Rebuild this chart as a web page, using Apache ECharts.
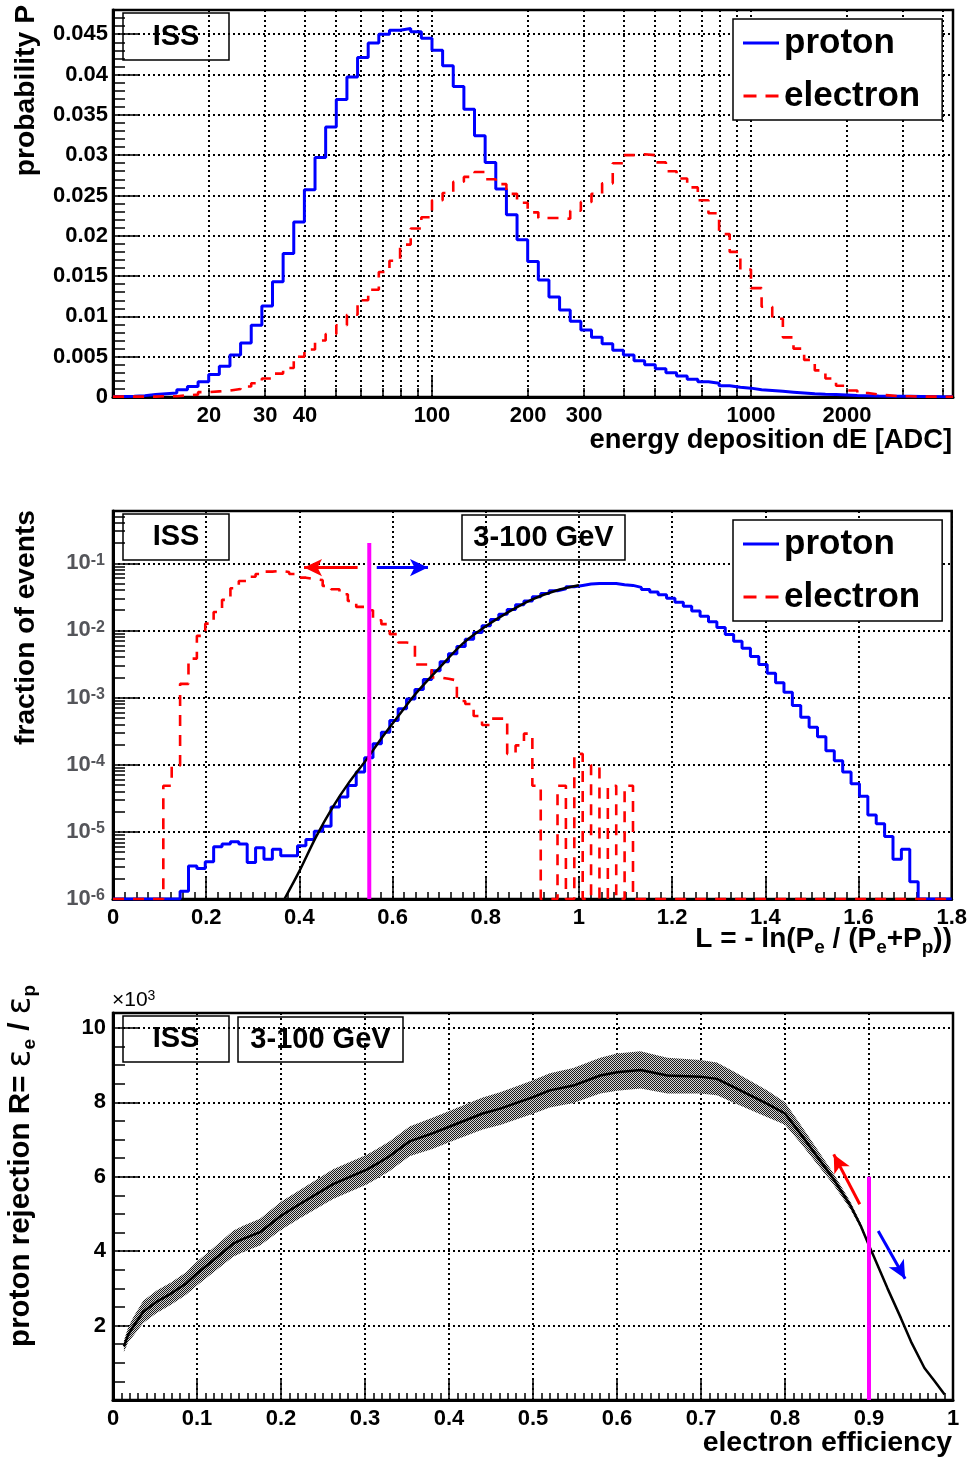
<!DOCTYPE html>
<html>
<head>
<meta charset="utf-8">
<script src="https://cdn.jsdelivr.net/npm/echarts@6/dist/echarts.min.js"></script>
<style>
  html, body { margin: 0; padding: 0; background: #fff; }
  #chart { width: 970px; height: 1458px; }
</style>
</head>
<body>
<div id="chart"></div>
<script>
// ---------------- energy deposition spectrum (30 log bins per decade from 10 ADC)
const dEFirstEdge = 10;
const dEBinsPerDecade = 30;
const dEProton = [
  0.00005, 0.0001, 0.00017, 0.0003, 0.0004, 0.0005, 0.0009, 0.0013, 0.0019, 0.0028,
  0.0038, 0.0052, 0.0067, 0.0089, 0.0113, 0.0143, 0.0178, 0.0217, 0.0257, 0.0297,
  0.0335, 0.0369, 0.0397, 0.0421, 0.0439, 0.0450, 0.0455, 0.0457, 0.0453, 0.0445,
  0.0430, 0.0411, 0.0385, 0.0357, 0.0324, 0.0291, 0.0258, 0.0226, 0.0195, 0.0168,
  0.0145, 0.0124, 0.0108, 0.0094, 0.0083, 0.0074, 0.0066, 0.0058, 0.0052, 0.0045,
  0.0040, 0.0035, 0.0030, 0.0026, 0.0022, 0.0019, 0.0017, 0.0014, 0.0012, 0.0011,
  0.0009, 0.0008, 0.0007, 0.0006, 0.0005, 0.0004, 0.00033, 0.0003, 0.00025, 0.0002,
  0.00017, 0.00012, 0.0001, 0.0001, 0.00008, 0.00006, 0.00005, 0.00004, 0.00003
];
const dEElectron = [
  0.00005, 0.00005, 0.00005, 0.00005, 0.0001, 0.0001, 0.0002, 0.0003, 0.0006, 0.0007,
  0.0008, 0.0010, 0.0013, 0.0017, 0.0023, 0.0029, 0.0036, 0.0050, 0.0059, 0.0070,
  0.0078, 0.0089, 0.0102, 0.0120, 0.0133, 0.0155, 0.0169, 0.0189, 0.0209, 0.0223,
  0.0244, 0.0253, 0.0267, 0.0273, 0.0279, 0.0270, 0.0264, 0.0252, 0.0241, 0.0229,
  0.0222, 0.0222, 0.0221, 0.0231, 0.0242, 0.0252, 0.0265, 0.0290, 0.0300, 0.0301,
  0.0300, 0.0291, 0.0280, 0.0271, 0.0260, 0.0244, 0.0228, 0.0202, 0.0180, 0.0158,
  0.0135, 0.0112, 0.0097, 0.0074, 0.0060, 0.0046, 0.0033, 0.0023, 0.0014, 0.0008,
  0.0005, 0.0003, 0.0002, 0.0001, 0.0001, 0.00005, 0.00005, 0.00003, 0.00003
];
const dEGridTicks = [10, 20, 30, 40, 50, 60, 70, 80, 90, 100, 200, 300, 400, 500, 600, 700, 800, 900, 1000, 2000, 3000, 4000];
const dEDecadeTicks = [100, 1000];
const dELabelTicks = [20, 30, 40, 100, 200, 300, 1000, 2000];

// ---------------- likelihood L (100 bins of 0.018 from 0)
const lBinWidth = 0.018;
const lProton = [
  0, 0, 0, 0, 0, 0, 0, 0, 1.3e-6, 3.1e-6,
  2.85e-6, 3.6e-6, 6.0e-6, 6.6e-6, 7.1e-6, 6.6e-6, 3.5e-6, 5.8e-6, 3.9e-6, 5.5e-6,
  4.4e-6, 4.4e-6, 6.2e-6, 7.7e-6, 1.02e-5, 1.21e-5, 2.35e-5, 3.3e-5, 4.9e-5, 7.8e-5,
  1.27e-4, 2.05e-4, 3.05e-4, 4.55e-4, 6.8e-4, 9.5e-4, 1.32e-3, 1.86e-3, 2.5e-3, 3.4e-3,
  4.5e-3, 5.75e-3, 7.4e-3, 9.3e-3, 1.17e-2, 1.45e-2, 1.74e-2, 2.04e-2, 2.4e-2, 2.75e-2,
  3.16e-2, 3.55e-2, 3.9e-2, 4.17e-2, 4.47e-2, 4.68e-2, 4.9e-2, 5.0e-2, 5.0e-2, 5.0e-2,
  4.8e-2, 4.68e-2, 4.37e-2, 4.07e-2, 3.72e-2, 3.39e-2, 3.02e-2, 2.63e-2, 2.29e-2, 1.95e-2,
  1.62e-2, 1.35e-2, 1.1e-2, 8.7e-3, 6.9e-3, 5.4e-3, 4.1e-3, 3.1e-3, 2.3e-3, 1.66e-3,
  1.2e-3, 7.6e-4, 5.1e-4, 3.6e-4, 2.6e-4, 1.62e-4, 1.15e-4, 7.8e-5, 5.2e-5, 3.4e-5,
  1.78e-5, 1.32e-5, 8.5e-6, 3.9e-6, 5.5e-6, 1.8e-6, 0, 0, 0, 0
];
const lElectron = [
  0, 0, 0, 0, 0, 0, 4.85e-5, 9.7e-5, 1.6e-3, 3.8e-3,
  8.3e-3, 1.26e-2, 1.88e-2, 2.85e-2, 4.25e-2, 5.45e-2, 6.3e-2, 6.9e-2, 7.5e-2, 7.7e-2,
  7.4e-2, 6.9e-2, 6.1e-2, 5.8e-2, 5.6e-2, 4.6e-2, 4.1e-2, 3.45e-2, 2.75e-2, 2.24e-2,
  2.0e-2, 1.42e-2, 1.24e-2, 8.8e-3, 6.6e-3, 6.4e-3, 3.1e-3, 3.1e-3, 2.0e-3, 1.9e-3,
  1.8e-3, 8.9e-4, 8.0e-4, 5.3e-4, 3.9e-4, 4.85e-4, 4.85e-4, 1.45e-4, 1.94e-4, 2.9e-4,
  4.85e-5, 0, 0, 4.85e-5, 0, 1.45e-4, 0, 9.7e-5, 0, 4.85e-5,
  0, 4.85e-5, 0, 0, 0, 0, 0, 0, 0, 0,
  0, 0, 0, 0, 0, 0, 0, 0, 0, 0,
  0, 0, 0, 0, 0, 0, 0, 0, 0, 0,
  0, 0, 0, 0, 0, 0, 0, 0, 0, 0
];
// fit to the proton distribution
const lFitX = [0.368, 0.40, 0.436, 0.471, 0.507, 0.543, 0.579, 0.614, 0.65, 0.70, 0.75, 0.80, 0.85, 0.90, 0.95, 1.00];
const lFitY = [1.0e-6, 2.6e-6, 8.5e-6, 2.3e-5, 5.5e-5, 1.17e-4, 2.63e-4, 5.5e-4, 1.15e-3, 2.75e-3, 6.3e-3, 1.15e-2, 1.9e-2, 2.9e-2, 3.9e-2, 4.7e-2];
const lCut = 0.55;
const lCutTop = 0.2;
const lAxisMin = 1e-6;
const lAxisMax = 0.6;

// ---------------- proton rejection vs electron efficiency (rejection in units of 10^3)
const effValues = [0.013, 0.018, 0.024, 0.036, 0.052, 0.069, 0.087, 0.100, 0.119, 0.143,
  0.155, 0.175, 0.200, 0.222, 0.262, 0.302, 0.313, 0.329, 0.353, 0.381,
  0.401, 0.440, 0.461, 0.500, 0.520, 0.548, 0.580, 0.600, 0.628, 0.660,
  0.699, 0.719, 0.739, 0.779, 0.800, 0.818, 0.838, 0.858, 0.878, 0.890,
  0.900, 0.906, 0.922, 0.938, 0.950, 0.966, 0.978, 0.990];
const rejValues = [1.44, 1.75, 1.97, 2.37, 2.64, 2.86, 3.13, 3.40, 3.75, 4.20,
  4.33, 4.51, 4.95, 5.26, 5.80, 6.19, 6.33, 6.55, 6.95, 7.17,
  7.35, 7.70, 7.83, 8.14, 8.32, 8.45, 8.72, 8.81, 8.87, 8.72,
  8.69, 8.63, 8.41, 7.96, 7.70, 7.17, 6.55, 5.93, 5.22, 4.69,
  4.15, 3.84, 3.00, 2.20, 1.57, 0.86, 0.51, 0.15];
const rejErrors = [0.15, 0.20, 0.25, 0.30, 0.30, 0.30, 0.30, 0.32, 0.33, 0.35,
  0.35, 0.36, 0.38, 0.38, 0.40, 0.40, 0.40, 0.40, 0.40, 0.42,
  0.42, 0.43, 0.44, 0.45, 0.46, 0.47, 0.48, 0.50, 0.50, 0.48,
  0.45, 0.44, 0.42, 0.36, 0.30, 0.25, 0.20, 0.15, 0.10, 0.07,
  0.04, 0.02, 0, 0, 0, 0, 0, 0];
const effCut = 0.9;
const effCutTop = 6.0;

// ---------------- helpers
const FONT = "'Liberation Sans', Arial, Helvetica, sans-serif";
const lg = Math.log10;

// histogram outline: one point per lower bin edge plus the closing edge
function histSteps(edges, values, mapY) {
  const pts = values.map((v, i) => [edges[i], mapY(v)]);
  pts.push([edges[values.length], mapY(values[values.length - 1])]);
  return pts;
}
const dEEdges = [];
for (let i = 0; i <= dEProton.length; i++) dEEdges.push(lg(dEFirstEdge) + i / dEBinsPerDecade);
const lEdges = [];
for (let i = 0; i <= lProton.length; i++) lEdges.push(+(i * lBinWidth).toFixed(4));
const logClamp = v => lg(Math.max(v, lAxisMin));
const ident = v => v;

// grey checkered fill for the error band
const hatch = document.createElement('canvas');
hatch.width = 2; hatch.height = 2;
(function () {
  const c = hatch.getContext('2d');
  c.fillStyle = '#d4d4d4'; c.fillRect(0, 0, 2, 2);
  c.fillStyle = '#1a1a1a'; c.fillRect(0, 0, 1, 1); c.fillRect(1, 1, 1, 1);
})();

const tickLabel = extra => Object.assign({
  fontFamily: FONT, fontWeight: 'bold', fontSize: 22, color: '#000', hideOverlap: false
}, extra || {});
const frameLine = { show: true, onZero: false, lineStyle: { color: '#000', width: 3 } };
const dotted = { show: true, lineStyle: { color: '#000', width: 2, type: [2, 3] } };
const tickStyle = { color: '#000', width: 1.5 };

function box(x, y, w, h, text) {
  return {
    type: 'group', z: 100, children: [
      { type: 'rect', shape: { x: x, y: y, width: w, height: h }, style: { fill: '#fff', stroke: '#000', lineWidth: 1.5 } },
      { type: 'text', x: x + w / 2, y: y + h / 2, style: {
        text: text, fontFamily: FONT, fontWeight: 'bold', fontSize: 29, fill: '#000',
        align: 'center', verticalAlign: 'middle' } }
    ]
  };
}
function subRich(size, greekSize) {
  return {
    n: { fontFamily: FONT, fontWeight: 'bold', fontSize: size, lineHeight: 31, padding: [0, 0, 6, 0] },
    s: { fontFamily: FONT, fontWeight: 'bold', fontSize: 19, lineHeight: 19, verticalAlign: 'bottom' },
    g: { fontFamily: "'DejaVu Sans', sans-serif", fontWeight: 'normal', fontSize: greekSize, lineHeight: 31, padding: [0, 0, 6, 0] }
  };
}
function title(x, y, text, rotate, size, rich) {
  return {
    type: 'text', z: 100, x: x, y: y, rotation: rotate ? Math.PI / 2 : 0,
    style: {
      text: text, rich: rich, fontFamily: FONT, fontWeight: 'bold', fontSize: size, fill: '#000',
      align: 'right', verticalAlign: 'middle'
    }
  };
}

const lMinor = [];
for (let d = -6; d <= -1; d++) for (let k = 2; k <= 9; k++) {
  const v = d + lg(k);
  if (v < lg(lAxisMax)) lMinor.push(v);
}

function legendBox(top) {
  return {
    left: 733, top: top, orient: 'vertical',
    data: [
      { name: 'proton', icon: 'path://M0,0H36V3H0Z' },
      { name: 'electron', icon: 'path://M0,0H13V3H0Z M22,0H35V3H22Z' }
    ],
    backgroundColor: '#fff', borderColor: '#000', borderWidth: 1.5,
    padding: [4, 22, 4, 10], itemGap: 13, itemWidth: 36, itemHeight: 3,
    textStyle: { fontFamily: FONT, fontWeight: 'bold', fontSize: 35, lineHeight: 40, color: '#000' },
    selectedMode: false
  };
}

const option = {
  animation: false,
  backgroundColor: '#fff',
  grid: [
    { left: 113, top: 10, width: 840, height: 387, show: true, borderColor: '#000', borderWidth: 2.5, backgroundColor: 'transparent' },
    { left: 113, top: 511, width: 840, height: 388, show: true, borderColor: '#000', borderWidth: 2.5, backgroundColor: 'transparent' },
    { left: 113, top: 1013, width: 840, height: 387, show: true, borderColor: '#000', borderWidth: 2.5, backgroundColor: 'transparent' }
  ],
  xAxis: [
    {
      type: 'value', gridIndex: 0, min: dEEdges[0], max: dEEdges[dEEdges.length - 1],
      axisLine: frameLine,
      axisTick: { show: true, inside: true, length: 9, lineStyle: tickStyle, customValues: dEGridTicks.map(lg) },
      axisLabel: tickLabel({ margin: 8, customValues: dELabelTicks.map(lg), formatter: v => String(Math.round(Math.pow(10, v))) }),
      splitLine: dotted
    },
    {
      type: 'value', gridIndex: 0, min: dEEdges[0], max: dEEdges[dEEdges.length - 1], position: 'bottom',
      axisLine: { show: false },
      axisTick: { show: true, inside: true, length: 20, lineStyle: tickStyle, customValues: dEDecadeTicks.map(lg) },
      axisLabel: { show: false }, splitLine: { show: false }
    },
    {
      type: 'value', gridIndex: 1, min: 0, max: 1.8, interval: 0.2,
      axisLine: frameLine,
      axisTick: { show: true, inside: true, length: 22, lineStyle: tickStyle },
      minorTick: { show: true, splitNumber: 8, length: 7, lineStyle: tickStyle },
      axisLabel: tickLabel({ margin: 8 }),
      splitLine: dotted
    },
    {
      type: 'value', gridIndex: 2, min: 0, max: 1, interval: 0.1,
      axisLine: frameLine,
      axisTick: { show: true, inside: true, length: 20, lineStyle: tickStyle },
      minorTick: { show: true, splitNumber: 10, length: 7, lineStyle: tickStyle },
      axisLabel: tickLabel({ margin: 8 }),
      splitLine: dotted
    }
  ],
  yAxis: [
    {
      type: 'value', gridIndex: 0, min: 0, max: 0.048, interval: 0.005,
      axisLine: frameLine,
      axisTick: { show: true, inside: true, length: 25, lineStyle: tickStyle },
      minorTick: { show: true, splitNumber: 5, length: 12, lineStyle: tickStyle },
      axisLabel: tickLabel({ margin: 5, showMaxLabel: false }),
      splitLine: dotted
    },
    {
      type: 'value', gridIndex: 1, min: lg(lAxisMin), max: lg(lAxisMax), interval: 1,
      axisLine: frameLine,
      axisTick: { show: true, inside: true, length: 25, lineStyle: tickStyle },
      axisLabel: {
        margin: 8, showMaxLabel: false, hideOverlap: false,
        formatter: v => '{b|10}{s|' + Math.round(v) + '}',
        rich: {
          b: { fontFamily: FONT, fontWeight: 'bold', fontSize: 22, lineHeight: 22, padding: [6, 0, 0, 0], verticalAlign: 'bottom' },
          s: { fontFamily: FONT, fontWeight: 'bold', fontSize: 16, lineHeight: 16, verticalAlign: 'top' }
        }
      },
      splitLine: dotted
    },
    {
      type: 'value', gridIndex: 1, min: lg(lAxisMin), max: lg(lAxisMax), position: 'left',
      axisLine: { show: false },
      axisTick: { show: true, inside: true, length: 12, lineStyle: tickStyle, customValues: lMinor },
      axisLabel: { show: false }, splitLine: { show: false }
    },
    {
      type: 'value', gridIndex: 2, min: 0, max: 10.4, interval: 2,
      axisLine: frameLine,
      axisTick: { show: true, inside: true, length: 25, lineStyle: tickStyle },
      minorTick: { show: true, splitNumber: 4, length: 12, lineStyle: tickStyle },
      axisLabel: tickLabel({ margin: 7, showMinLabel: false, showMaxLabel: false }),
      splitLine: dotted
    }
  ],
  legend: [legendBox(19), legendBox(520)],
  series: [
    // energy deposition
    {
      name: 'proton', type: 'line', xAxisIndex: 0, yAxisIndex: 0, step: 'end', symbol: 'none',
      data: histSteps(dEEdges, dEProton, ident), color: '#0000ff',
      lineStyle: { color: '#0000ff', width: 3 }, z: 3
    },
    {
      name: 'electron', type: 'line', xAxisIndex: 0, yAxisIndex: 0, step: 'end', symbol: 'none',
      data: histSteps(dEEdges, dEElectron, ident), color: '#ff0000',
      lineStyle: { color: '#ff0000', width: 2.6, type: [11, 9] }, z: 4
    },
    // likelihood
    {
      name: 'proton', type: 'line', xAxisIndex: 2, yAxisIndex: 1, step: 'end', symbol: 'none',
      data: histSteps(lEdges, lProton, logClamp), color: '#0000ff',
      lineStyle: { color: '#0000ff', width: 3 }, z: 3
    },
    {
      name: 'electron', type: 'line', xAxisIndex: 2, yAxisIndex: 1, step: 'end', symbol: 'none',
      data: histSteps(lEdges, lElectron, logClamp), color: '#ff0000',
      lineStyle: { color: '#ff0000', width: 2.6, type: [11, 9] }, z: 4
    },
    {
      name: 'fit', type: 'line', xAxisIndex: 2, yAxisIndex: 1, symbol: 'none', smooth: 0.3,
      data: lFitX.map((x, i) => [x, lg(lFitY[i])]),
      lineStyle: { color: '#000', width: 2.5 }, z: 5
    },
    {
      name: 'L cut', type: 'line', xAxisIndex: 2, yAxisIndex: 1, symbol: 'none',
      data: [[lCut, lg(lAxisMin)], [lCut, lg(lCutTop)]],
      lineStyle: { color: '#ff00ff', width: 4 }, z: 6,
      markLine: {
        silent: true, symbol: ['none', 'arrow'], symbolSize: [13, 18], label: { show: false },
        data: [
          [{ coord: [0.525, -1.065], lineStyle: { color: '#ff0000', width: 3, type: 'solid' } }, { coord: [0.41, -1.065] }],
          [{ coord: [0.566, -1.065], lineStyle: { color: '#0000ff', width: 3, type: 'solid' } }, { coord: [0.676, -1.065] }]
        ]
      }
    },
    // rejection
    {
      name: 'band', type: 'custom', xAxisIndex: 3, yAxisIndex: 3, z: 2,
      data: [[effValues[0], rejValues[0]]],
      renderItem: function (params, api) {
        const pts = [];
        for (let i = 0; i < effValues.length; i++) pts.push(api.coord([effValues[i], rejValues[i] + rejErrors[i]]));
        for (let i = effValues.length - 1; i >= 0; i--) pts.push(api.coord([effValues[i], rejValues[i] - rejErrors[i]]));
        return { type: 'polygon', shape: { points: pts }, style: { fill: { image: hatch, repeat: 'repeat' }, stroke: null } };
      }
    },
    {
      name: 'rejection', type: 'line', xAxisIndex: 3, yAxisIndex: 3, symbol: 'none',
      data: effValues.map((e, i) => [e, rejValues[i]]),
      lineStyle: { color: '#000', width: 2.5 }, z: 4
    },
    {
      name: 'eff cut', type: 'line', xAxisIndex: 3, yAxisIndex: 3, symbol: 'none',
      data: [[effCut, 0], [effCut, effCutTop]],
      lineStyle: { color: '#ff00ff', width: 4 }, z: 6,
      markLine: {
        silent: true, symbol: ['none', 'arrow'], symbolSize: [13, 18], label: { show: false },
        data: [
          [{ coord: [0.889, 5.26], lineStyle: { color: '#ff0000', width: 3, type: 'solid' } }, { coord: [0.858, 6.6] }],
          [{ coord: [0.911, 4.54], lineStyle: { color: '#0000ff', width: 3, type: 'solid' } }, { coord: [0.943, 3.26] }]
        ]
      }
    }
  ],
  graphic: [
    box(123, 13, 106, 47, 'ISS'),
    box(123, 514, 106, 46, 'ISS'),
    box(462, 515, 163, 45, '3-100 GeV'),
    box(123, 1016, 106, 46, 'ISS'),
    box(238, 1017, 165, 45, '3-100 GeV'),
    title(952, 440, 'energy deposition dE [ADC]', false, 27.3),
    title(26, 5, 'probability P', true, 28.3),
    title(26, 510, 'fraction of events', true, 28.2),
    title(952, 942, '{n|L = - ln(P}{s|e}{n| / (P}{s|e}{n|+P}{s|p}{n|))}', false, 28, subRich(28, 30)),
    title(952, 1443, 'electron efficiency', false, 28.4),
    title(24, 985, '{n|proton rejection R= }{g|ε}{s|e}{n| / }{g|ε}{s|p}', true, 29.5, subRich(29.5, 33)),
    {
      type: 'text', z: 100, x: 112, y: 1000,
      style: {
        text: '{m|×10}{u|3}', verticalAlign: 'middle', align: 'left',
        rich: {
          m: { fontFamily: FONT, fontSize: 21, lineHeight: 21, padding: [5, 0, 0, 0], verticalAlign: 'bottom' },
          u: { fontFamily: FONT, fontSize: 14, lineHeight: 14, verticalAlign: 'top' }
        }
      }
    }
  ]
};

const chart = echarts.init(document.getElementById('chart'));
chart.setOption(option);
</script>
</body>
</html>
